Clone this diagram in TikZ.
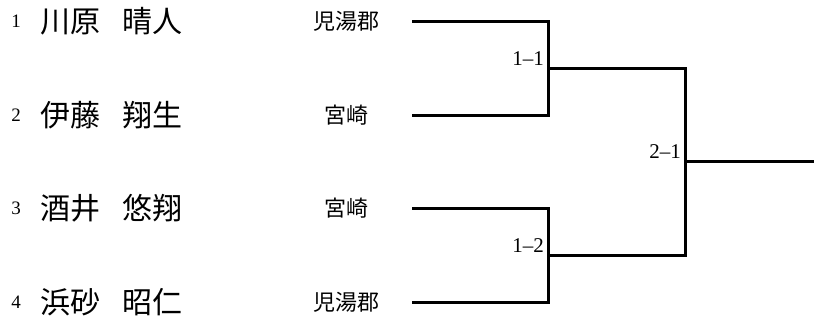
\documentclass[tikz,border=0pt]{standalone}
\usepackage{fontspec}
\newfontfamily\jpfont{Noto Sans CJK JP}
\newfontfamily\numfont[Ligatures=TeX]{Liberation Serif}
\usetikzlibrary{positioning}

\begin{document}
\begin{tikzpicture}[x=1pt, y=-1pt]
    % ------- style -------
    \tikzset{%
        seed/.style={inner sep=0, font=\numfont\fontsize{19}{19}\selectfont},
        player/.style={inner sep=0, anchor=west, font=\jpfont\fontsize{30}{30}\selectfont},
        team/.style={inner sep=0, font=\jpfont\fontsize{22}{22}\selectfont},
        match/.style={inner sep=0, anchor=south east, font=\numfont\fontsize{21}{21}\selectfont},
        bracket/.style={line width=3pt, line join=miter},
    }
    \useasboundingbox (0,0) rectangle (814,322);

    % ------- entries -------
    \foreach \num/\sei/\mei/\team/\y in {%
        1/川原/晴人/児湯郡/21.5,
        2/伊藤/翔生/宮崎/115.3,
        3/酒井/悠翔/宮崎/208.6,
        4/浜砂/昭仁/児湯郡/302} {
        \node[seed] (n\num) at (16,\y) {\num};
        \node[player] (p\num) at (40,\y) {\sei\hspace{22pt}\mei};
        \node[team] (t\num) at (346,\y) {\team};
        \coordinate (s\num) at (412,\y);
    }

    % ------- bracket -------
    \coordinate (m11) at (548.5,68.4);
    \coordinate (m12) at (548.5,255.3);
    \coordinate (m21) at (685.5,161.8);
    \coordinate (win) at (814,161.8);

    \draw[bracket] (s1) -| (m11) |- (s2);
    \draw[bracket] (s3) -| (m12) |- (s4);
    \draw[bracket] (m11) -| (m21) |- (m12);
    \draw[bracket] (m21) -- (win);

    % ------- labels -------
    \node[match] at ([xshift=-4.5pt, yshift=3pt] m11) {1--1};
    \node[match] at ([xshift=-4.5pt, yshift=3pt] m12) {1--2};
    \node[match] at ([xshift=-4.5pt, yshift=3pt] m21) {2--1};
\end{tikzpicture}
\end{document}
